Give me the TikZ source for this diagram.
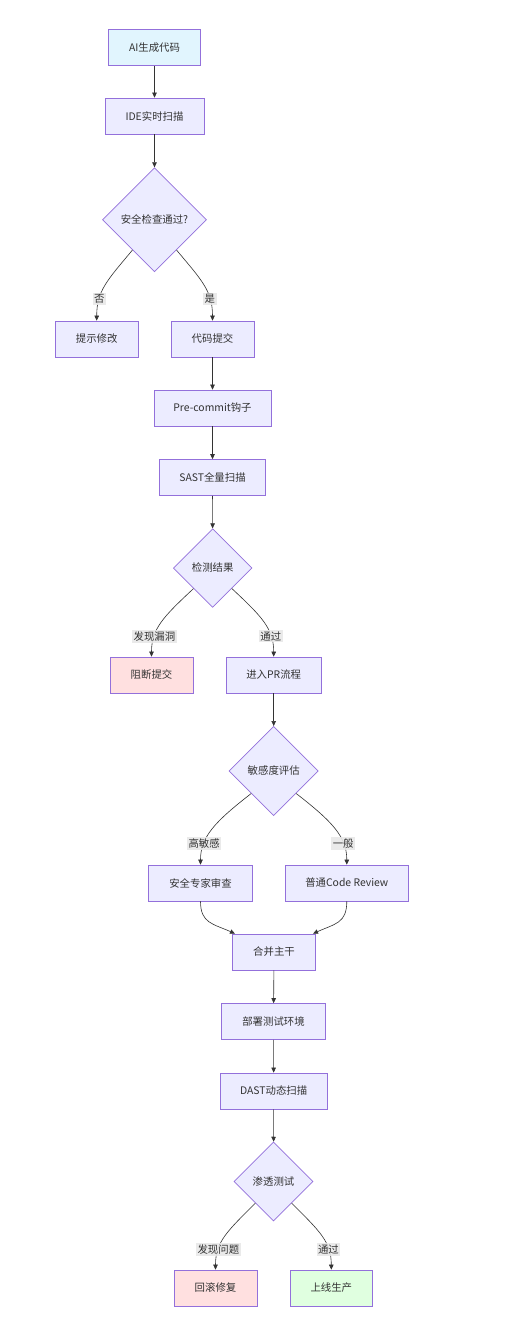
\documentclass[tikz,border=0pt]{standalone}
\usepackage{fontspec}
\setmainfont{Noto Sans CJK SC}
\usetikzlibrary{shapes.geometric,arrows.meta}
\definecolor{nodefill}{HTML}{ECECFF}
\definecolor{nodeline}{HTML}{9370DB}
\definecolor{startfill}{HTML}{E1F5FE}
\definecolor{stopfill}{HTML}{FFE0E0}
\definecolor{okfill}{HTML}{E0FFE0}
\definecolor{edgeline}{HTML}{333333}
\definecolor{lblfill}{HTML}{E8E8E8}
\tikzset{
    box/.style={draw=nodeline,fill=nodefill,rectangle,line width=0.7pt,minimum height=36pt,inner sep=0pt,text=edgeline},
    decision/.style={draw=nodeline,fill=nodefill,diamond,aspect=1,line width=0.7pt,inner sep=0pt,text=edgeline},
    flow/.style={draw=edgeline,line width=0.6pt,-{Triangle[length=5pt,width=4.5pt]}},
    lbl/.style={fill=lblfill,fill opacity=0.9,text opacity=1,inner sep=1.5pt,text=edgeline}
}
\begin{document}
\begin{tikzpicture}[x=1pt,y=-1pt,font=\fontsize{10.4}{12.5}\selectfont]
        \useasboundingbox[fill=white] (0,0) rectangle (510,1334);
        %% IDE stage
        \node[box,fill=startfill,minimum width=92pt] (A) at (154.5,47.5) {AI生成代码};
        \node[box,minimum width=98.7pt] (B) at (154.5,116) {IDE实时扫描};
        \node[decision,minimum size=104pt] (C) at (154.5,219.7) {安全检查通过?};
        \node[box,minimum width=83.3pt] (D) at (96.7,339) {提示修改};
        \node[box,minimum width=83pt] (E) at (212.5,339) {代码提交};
        %% Commit stage
        \node[box,minimum width=117pt] (F) at (212.5,408) {Pre-commit钩子};
        \node[box,minimum width=106.4pt] (G) at (212.5,477.5) {SAST全量扫描};
        \node[decision,minimum size=78.7pt] (H) at (212.7,568) {检测结果};
        \node[box,fill=stopfill,minimum width=83pt] (I) at (151.5,675) {阻断提交};
        \node[box,minimum width=95.3pt] (J) at (273.7,675) {进入PR流程};
        %% Review stage
        \node[decision,minimum size=89.3pt] (K) at (273.7,771) {敏感度评估};
        \node[box,minimum width=104.4pt] (L) at (200.5,883) {安全专家审查};
        \node[box,minimum width=122.3pt] (M) at (346.8,883) {普通Code Review};
        \node[box,minimum width=83.4pt] (N) at (274,952) {合并主干};
        %% Test stage
        \node[box,minimum width=104.4pt] (O) at (273.5,1021.5) {部署测试环境};
        \node[box,minimum width=107.3pt] (P) at (273.7,1091) {DAST动态扫描};
        \node[decision,minimum size=79pt] (Q) at (273.5,1181.5) {渗透测试};
        \node[box,fill=stopfill,minimum width=83pt] (R) at (215.5,1288) {回滚修复};
        \node[box,fill=okfill,minimum width=82.7pt] (S) at (331.3,1288) {上线生产};
        %% Straight flows
        \draw[flow] (A) -- (B);
        \draw[flow] (B) -- (C);
        \draw[flow] (E) -- (F);
        \draw[flow] (F) -- (G);
        \draw[flow] (G) -- (H);
        \draw[flow] (J) -- (K);
        \draw[flow] (N) -- (O);
        \draw[flow] (O) -- (P);
        \draw[flow] (P) -- (Q);
        %% Branches
        \draw[flow] (C.234) .. controls +(-25,30) and +(0,-30) .. (D.north) node[lbl,pos=0.72] {否};
        \draw[flow] (C.306) .. controls +(25,30) and +(0,-30) .. (E.north) node[lbl,pos=0.72] {是};
        \draw[flow] (H.227) .. controls +(-30,28) and +(0,-28) .. (I.north) node[lbl,pos=0.72] {发现漏洞};
        \draw[flow] (H.313) .. controls +(30,28) and +(0,-28) .. (J.north) node[lbl,pos=0.72] {通过};
        \draw[flow] (K.225) .. controls +(-36,28) and +(0,-28) .. (L.north) node[lbl,pos=0.72] {高敏感};
        \draw[flow] (K.315) .. controls +(36,28) and +(0,-28) .. (M.north) node[lbl,pos=0.72] {一般};
        \draw[flow] (Q.230) .. controls +(-28,28) and +(0,-28) .. (R.north) node[lbl,pos=0.72] {发现问题};
        \draw[flow] (Q.310) .. controls +(28,28) and +(0,-28) .. (S.north) node[lbl,pos=0.72] {通过};
        %% Merge
        \draw[flow] (L.south) .. controls +(0,22) and +(-22,-10) .. ([xshift=3pt]N.north west);
        \draw[flow] (M.south) .. controls +(0,22) and +(22,-10) .. ([xshift=-3pt]N.north east);
    \end{tikzpicture}
\end{document}
